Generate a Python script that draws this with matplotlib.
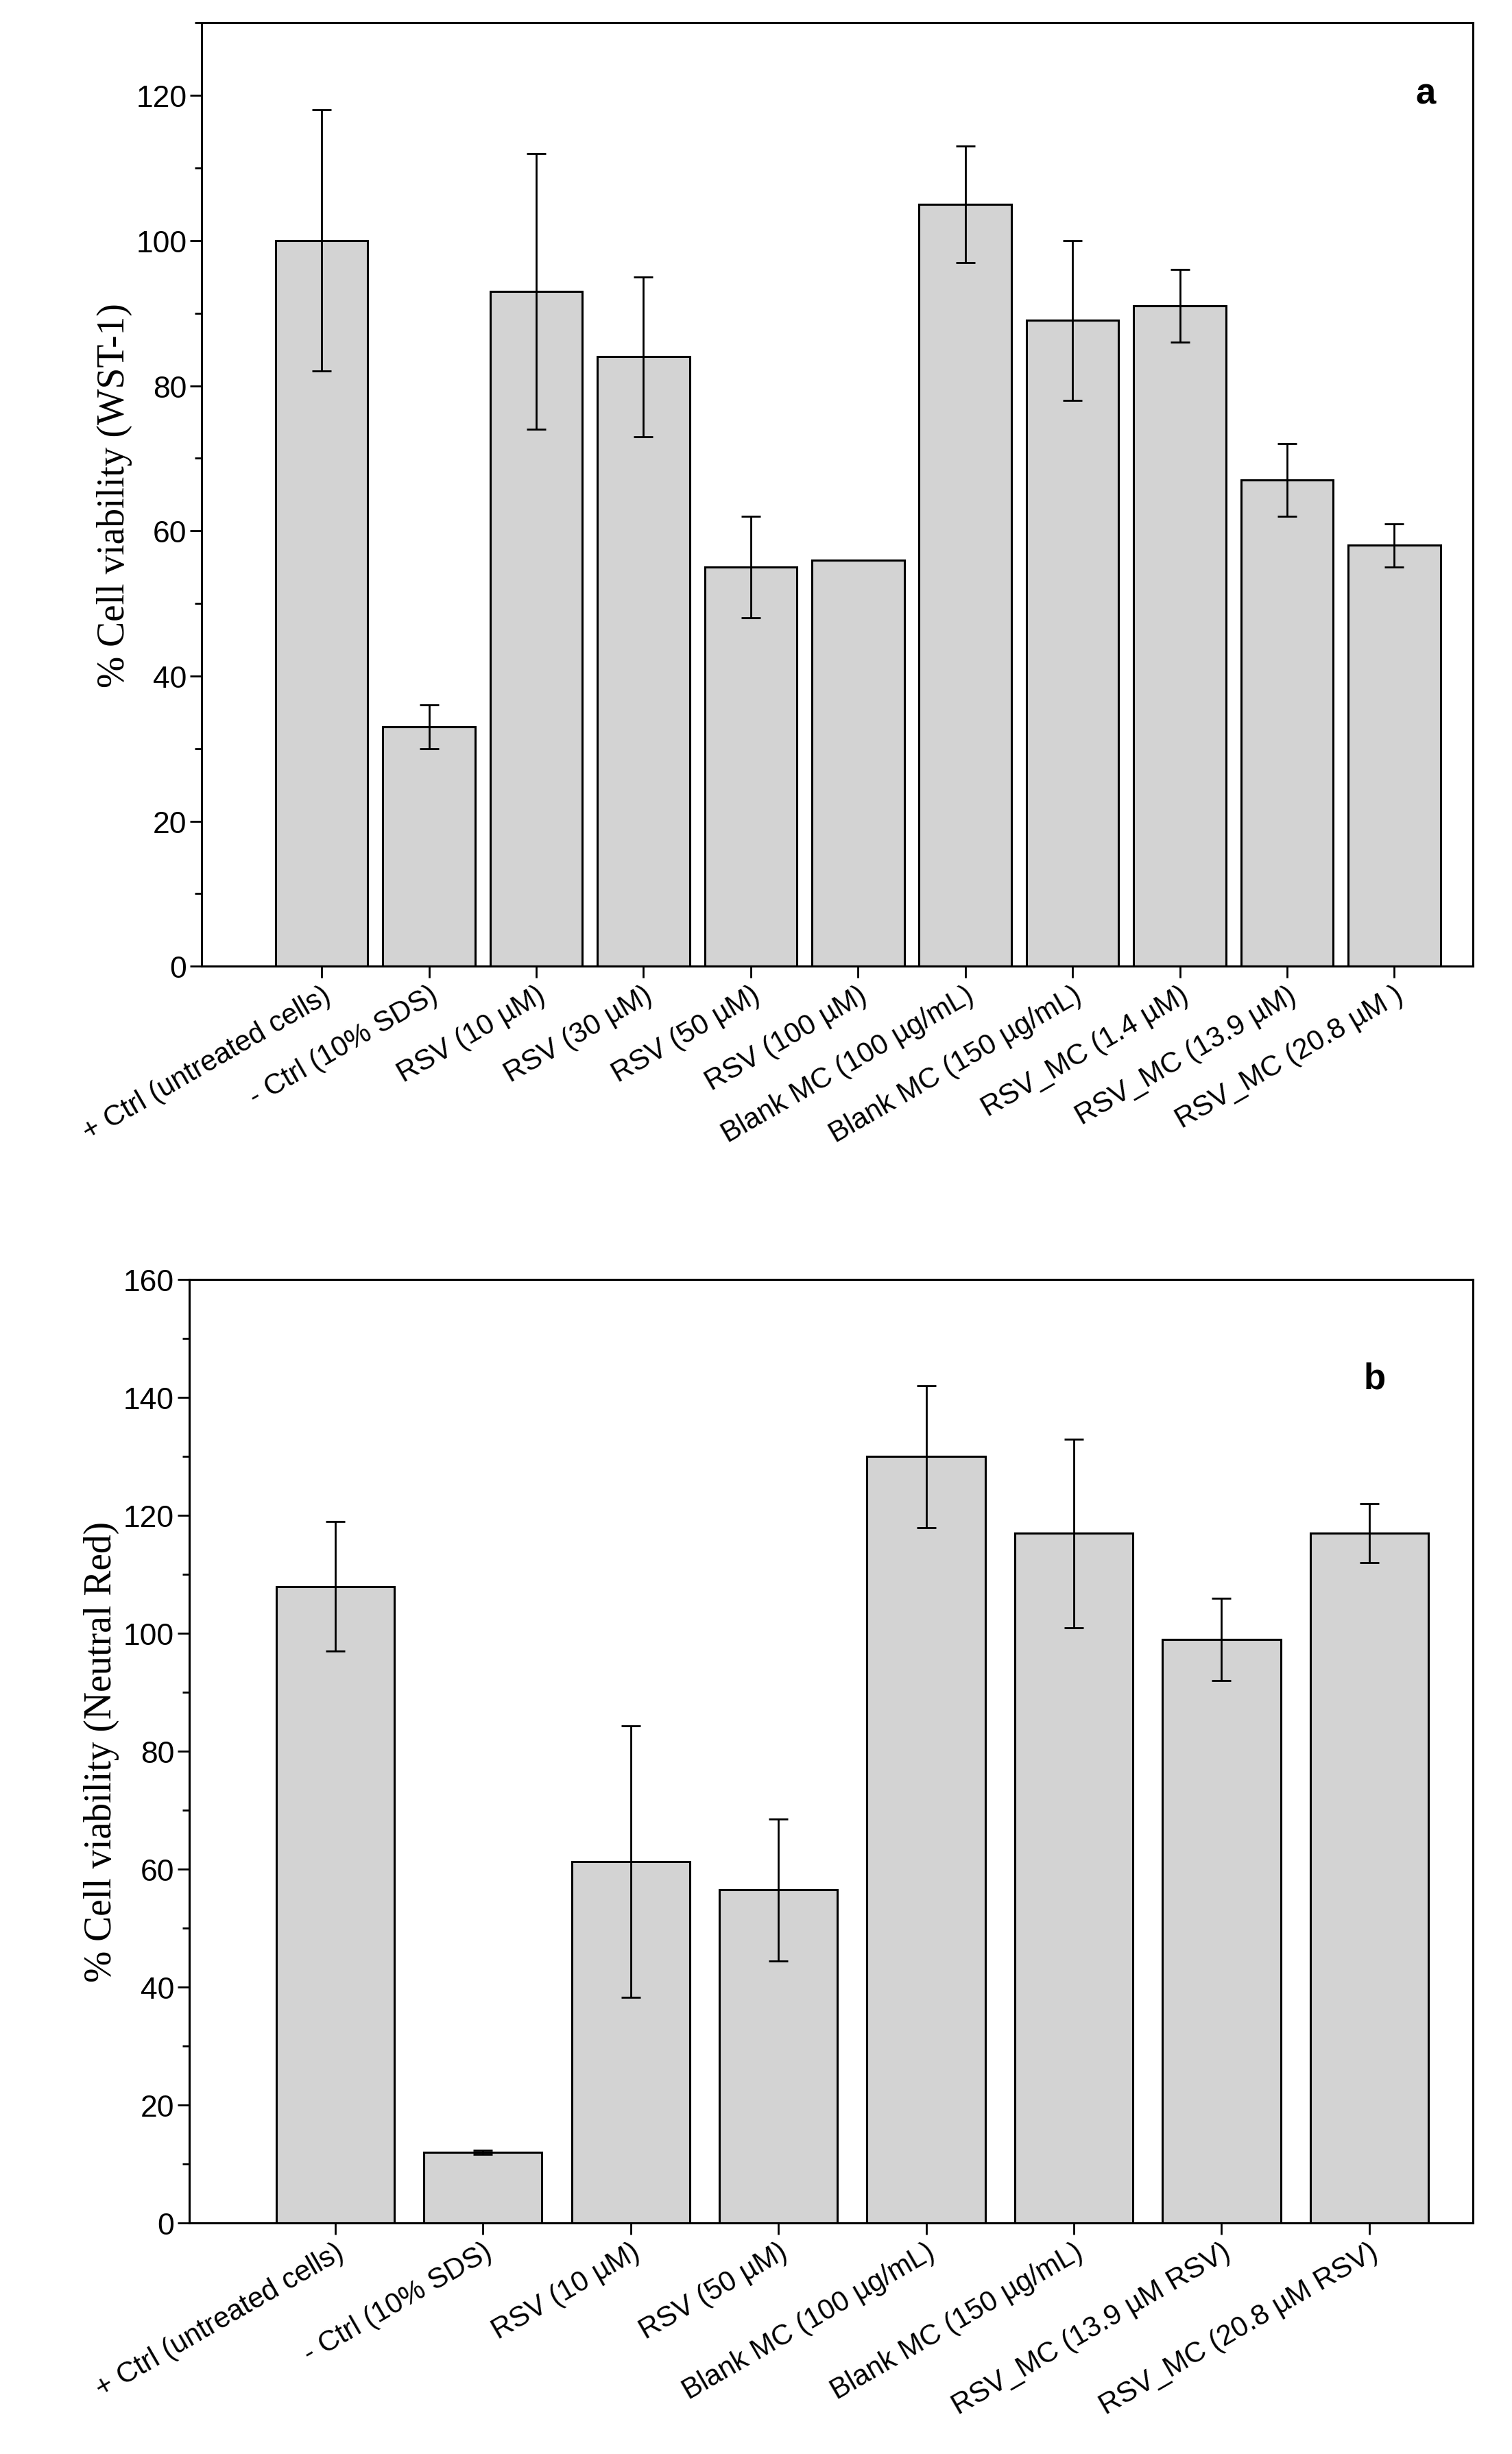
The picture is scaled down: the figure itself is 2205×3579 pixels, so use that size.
import matplotlib
matplotlib.use('Agg')
import matplotlib.pyplot as plt
from matplotlib.ticker import MultipleLocator

plt.rcParams['font.family'] = ['Liberation Sans', 'DejaVu Sans']

labels_a = ['+ Ctrl (untreated cells)', '- Ctrl (10% SDS)', 'RSV (10 µM)', 'RSV (30 µM)',
            'RSV (50 µM)', 'RSV (100 µM)', 'Blank MC (100 µg/mL)', 'Blank MC (150 µg/mL)',
            'RSV_MC (1.4 µM)', 'RSV_MC (13.9 µM)', 'RSV_MC (20.8 µM )']
vals_a = [100, 33, 93, 84, 55, 56, 105, 89, 91, 67, 58]
errs_a = [18, 3, 19, 11, 7, 0, 8, 11, 5, 5, 3]

labels_b = ['+ Ctrl (untreated cells)', '- Ctrl (10% SDS)', 'RSV (10 µM)', 'RSV (50 µM)',
            'Blank MC (100 µg/mL)', 'Blank MC (150 µg/mL)', 'RSV_MC (13.9 µM RSV)',
            'RSV_MC (20.8 µM RSV)']
vals_b = [108, 12, 61.3, 56.5, 130, 117, 99, 117]
errs_b = [11, 0.3, 23, 12, 12, 16, 7, 5]

W, H = 2205, 3580
fig = plt.figure(figsize=(W / 100, H / 100), dpi=100)

def px(l, t, r, b):
    s = 2205 / 960
    return [l * s / W, 1 - b * s / H, (r - l) * s / W, (b - t) * s / H]

def panel(rect, labels, vals, errs, width, xlim, ylim, major, ylabel, letter, lpos):
    ax = fig.add_axes(rect)
    x = list(range(len(vals)))
    ax.bar(x, vals, width=width, color='#d3d3d3', edgecolor='black', linewidth=2.2, zorder=2)
    ax.errorbar(x, vals, yerr=errs, fmt='none', ecolor='black', elinewidth=2, capsize=10,
                capthick=2, zorder=3)
    ax.set_xlim(*xlim)
    ax.set_ylim(*ylim)
    ax.yaxis.set_major_locator(MultipleLocator(major))
    ax.yaxis.set_minor_locator(MultipleLocator(major / 2))
    ax.set_xticks(x)
    ax.set_xticklabels(labels, rotation=30, ha='right', rotation_mode='anchor', fontsize=30)
    ax.tick_params(axis='y', labelsize=32, width=2, length=12, direction='out')
    ax.tick_params(axis='y', which='minor', width=2, length=7)
    ax.tick_params(axis='x', width=2, length=12, direction='out')
    for s in ax.spines.values():
        s.set_linewidth(2.2)
    ax.set_ylabel(ylabel, fontsize=40, family=['Liberation Serif', 'DejaVu Serif'])
    ax.text(lpos[0], lpos[1], letter, transform=ax.transAxes, fontsize=38, fontweight='bold')
    return ax

panel(px(128, 15, 935, 614), labels_a, vals_a, errs_a, 0.86, (-1.12, 10.73), (0, 130), 20,
      '% Cell viability (WST-1)', 'a', (0.955, 0.915))
panel(px(120, 813, 935, 1412), labels_b, vals_b, errs_b, 0.8, (-0.99, 7.7), (0, 160), 20,
      '% Cell viability (Neutral Red)', 'b', (0.915, 0.885))

fig.savefig('out.png', dpi=100, facecolor='white')
